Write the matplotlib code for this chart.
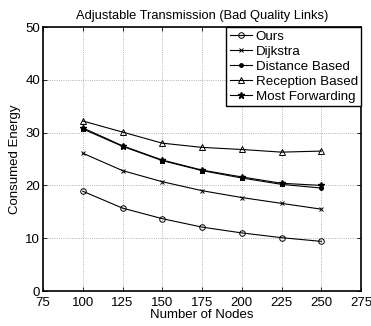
import matplotlib
matplotlib.use("Agg")
import matplotlib.pyplot as plt

plt.rcParams['font.family'] = ['Liberation Sans', 'DejaVu Sans']

nodes = [100, 125, 150, 175, 200, 225, 250]
ours = [18.9, 15.7, 13.7, 12.1, 11.0, 10.1, 9.4]
dijkstra = [26.1, 22.8, 20.7, 19.0, 17.7, 16.6, 15.5]
distance = [30.7, 27.4, 24.7, 22.8, 21.4, 20.2, 19.5]
reception = [32.2, 30.1, 28.0, 27.2, 26.8, 26.3, 26.5]
forwarding = [30.9, 27.5, 24.8, 22.9, 21.6, 20.4, 20.0]
labels = ['Ours', 'Dijkstra', 'Distance Based', 'Reception Based', 'Most Forwarding']
xticks = [75, 100, 125, 150, 175, 200, 225, 250, 275]
yticks = [0, 10, 20, 30, 40, 50]

fig = plt.figure(figsize=(3.71, 3.26), dpi=100)
ax = fig.add_axes([43/371, 1-291/326, (361-43)/371, (291-27)/326])

styles = [
    dict(marker='o', markersize=4, markerfacecolor='none', markeredgewidth=0.7),
    dict(marker='x', markersize=3, markeredgewidth=0.7),
    dict(marker='.', markersize=5),
    dict(marker='^', markersize=4.5, markerfacecolor='none', markeredgewidth=0.7),
    dict(marker='*', markersize=5),
]
for data, lab, st in zip([ours, dijkstra, distance, reception, forwarding], labels, styles):
    ax.plot(nodes, data, color='black', linewidth=0.8, label=lab, **st)

ax.set_xlim(75, 275)
ax.set_ylim(0, 50)
ax.set_xticks(xticks)
ax.set_yticks(yticks)
ax.tick_params(direction='in', labelsize=9.5, length=3, width=0.6, top=True, right=True)
ax.tick_params(axis='x', pad=4)
ax.tick_params(axis='y', pad=2)
ax.grid(True, linestyle=':', color='#999999', linewidth=0.6)
for s in ax.spines.values():
    s.set_linewidth(1.2)
ax.set_xlabel('Number of Nodes', fontsize=9.5, labelpad=0)
ax.set_ylabel('Consumed Energy', fontsize=9.5, labelpad=3)
ax.set_title('Adjustable Transmission (Bad Quality Links)', fontsize=9.3, pad=6)
leg = ax.legend(loc='upper right', fontsize=9.6, fancybox=False, edgecolor='black', framealpha=1,
                handlelength=1.7, handletextpad=0.25, borderpad=0.25, labelspacing=0.2,
                borderaxespad=0.0)
leg.get_frame().set_linewidth(1.0)

fig.savefig('out.png', dpi=100)
